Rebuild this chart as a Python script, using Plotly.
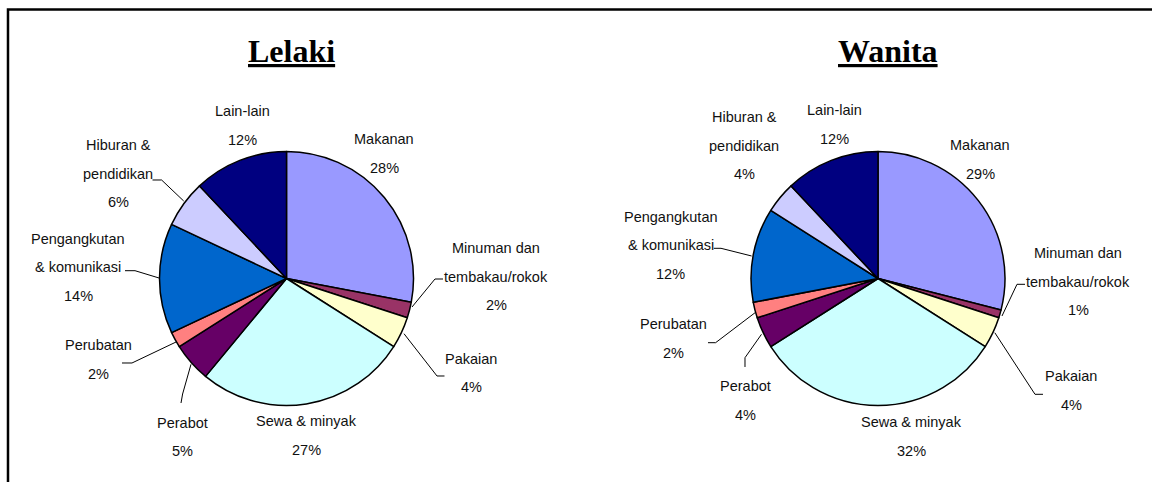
import plotly.graph_objects as go

# ---------------- data ----------------
categories = ["Makanan", "Minuman dan tembakau/rokok", "Pakaian", "Sewa & minyak",
              "Perabot", "Perubatan", "Pengangkutan & komunikasi",
              "Hiburan & pendidikan", "Lain-lain"]
label_lines = [["Makanan"], ["Minuman dan", "tembakau/rokok"], ["Pakaian"], ["Sewa & minyak"],
               ["Perabot"], ["Perubatan"], ["Pengangkutan", "& komunikasi"],
               ["Hiburan &", "pendidikan"], ["Lain-lain"]]
lelaki_values = [28, 2, 4, 27, 5, 2, 14, 6, 12]
wanita_values = [29, 1, 4, 32, 4, 2, 12, 4, 12]
titles = ["Lelaki", "Wanita"]
colors = ["#9999FF", "#993366", "#FFFFCC", "#CCFFFF", "#660066",
          "#FF8080", "#0066CC", "#CCCCFF", "#000080"]

# ---------------- layout (page pixels) ----------------
W, H = 1152, 482
R = 127
centers = [(286.5, 278.5), (878, 278.5)]
title_pos = [(291.7, 51), (888, 51)]
LINE_GAP = 28.5
label_pos = [
    [(384, 139), (496, 248), (471, 358.5), (306, 421), (182, 422.5),
     (98, 345), (78, 238.5), (118, 145), (242, 111)],
    [(980, 145), (1078, 253), (1071, 376), (911, 422), (745.5, 386),
     (673, 324), (670.5, 217), (744, 117), (834, 110)],
]
leaders = [
    {1: [(443, 279), (435, 279), (412, 307)],
     2: [(444.5, 376), (437, 376), (404, 333.7)],
     4: [(181, 403), (182.6, 394), (191, 364.3)],
     5: [(122, 363), (132, 363), (176.7, 341.7)],
     6: [(125, 270.7), (135, 270.7), (159, 278)],
     7: [(152.5, 180), (161.6, 180), (183.7, 201)]},
    {1: [(1025, 284.3), (1017, 284.3), (1002, 316)],
     2: [(1043, 394.3), (1035, 394.3), (994.8, 332.7)],
     4: [(745, 367), (745, 357.7), (761.5, 334.3)],
     5: [(708, 342.7), (715.6, 342.7), (756, 312)],
     6: [(713.8, 248.3), (721, 248.3), (751.6, 256)]},
]
LABEL_FONT = "Liberation Sans, Arial, sans-serif"


def px(x, y):
    return x / W, 1 - y / H


def path_of(pts):
    s = ""
    for n, (x, y) in enumerate(pts):
        qx, qy = px(x, y)
        s += ("M" if n == 0 else "L") + f"{qx:.5f},{qy:.5f} "
    return s.strip()


fig = go.Figure()
annotations = []
shapes = []
series = [lelaki_values, wanita_values]

for k, vals in enumerate(series):
    cx, cy = centers[k]
    x0, y1 = px(cx - R, cy - R)
    x1, y0 = px(cx + R, cy + R)
    fig.add_trace(go.Pie(
        labels=categories, values=vals, sort=False, direction="clockwise",
        rotation=0, textinfo="none", showlegend=False,
        marker=dict(colors=colors, line=dict(color="black", width=1.5)),
        domain=dict(x=[x0, x1], y=[y0, y1]),
        hovertemplate="%{label}: %{value}%<extra></extra>",
    ))
    total = sum(vals)
    for i, v in enumerate(vals):
        lines = label_lines[i] + [f"{round(v / total * 100)}%"]
        lx, ly = label_pos[k][i]
        for j, t in enumerate(lines):
            ax, ay = px(lx, ly + j * LINE_GAP)
            annotations.append(dict(
                x=ax, y=ay, xref="paper", yref="paper", text=t, showarrow=False,
                xanchor="center", yanchor="middle",
                font=dict(family=LABEL_FONT, size=14.5, color="#111111")))
    for i, pts in leaders[k].items():
        shapes.append(dict(type="path", xref="paper", yref="paper", path=path_of(pts),
                           line=dict(color="black", width=1)))
    tx, ty = px(*title_pos[k])
    annotations.append(dict(
        x=tx, y=ty, xref="paper", yref="paper", text=f"<u><b>{titles[k]}</b></u>",
        showarrow=False, xanchor="center", yanchor="middle",
        font=dict(family="Liberation Serif, Times New Roman, serif", size=32, color="black")))

# chart border: only the left and top edges are visible in the reference
shapes.append(dict(type="path", xref="paper", yref="paper",
                   path=path_of([(8, 500), (8, 9.5), (1170, 9.5)]),
                   line=dict(color="black", width=2.5), layer="below"))

fig.update_layout(
    width=W, height=H, margin=dict(l=0, r=0, t=0, b=0),
    paper_bgcolor="white", plot_bgcolor="white",
    annotations=annotations, shapes=shapes,
)
fig.write_html(
    "out.html",
    config={"displayModeBar": False},
    post_script=("document.body.style.margin='0';"
                 "document.body.style.overflow='hidden';"
                 "document.documentElement.style.overflow='hidden';"),
)
